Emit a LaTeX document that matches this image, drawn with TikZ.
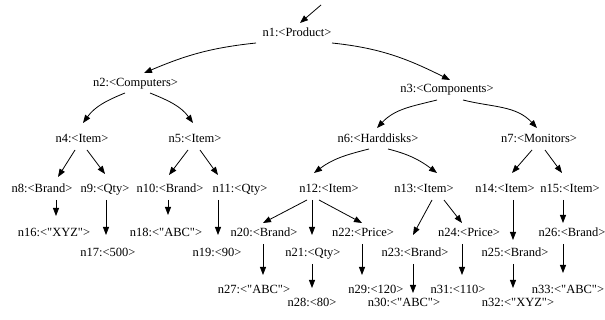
\documentclass[tikz,border=0pt]{standalone}
\usepackage{fontspec}
\setmainfont{Liberation Serif}[Ligatures=TeXOff]
\usetikzlibrary{arrows.meta,calc}
\begin{document}
\begin{tikzpicture}[x=1pt,y=1pt,
  lbl/.style={inner sep=0pt, text height=8pt, text depth=0pt, font=\fontsize{12.5}{14}\selectfont},
  e/.style={line width=0.8pt, -{Triangle[length=8pt,width=6pt]}}]
\useasboundingbox (0,0) rectangle (605,-320);
% nodes
\node[lbl] (n1)  at (297,-33)  {n1:<Product>};
\node[lbl] (n2)  at (135.5,-83) {n2:<Computers>};
\node[lbl] (n3)  at (447,-89)  {n3:<Components>};
\node[lbl] (n4)  at (82,-139)  {n4:<Item>};
\node[lbl] (n5)  at (195,-139) {n5:<Item>};
\node[lbl] (n6)  at (378,-139) {n6:<Harddisks>};
\node[lbl] (n7)  at (539,-139) {n7:<Monitors>};
\node[lbl] (n8)  at (42,-189)  {n8:<Brand>};
\node[lbl] (n9)  at (105,-189) {n9:<Qty>};
\node[lbl] (n10) at (170,-189) {n10:<Brand>};
\node[lbl] (n11) at (240,-189) {n11:<Qty>};
\node[lbl] (n12) at (329,-189) {n12:<Item>};
\node[lbl] (n13) at (424,-189) {n13:<Item>};
\node[lbl] (n14) at (505,-189) {n14:<Item>};
\node[lbl] (n15) at (570,-189) {n15:<Item>};
\node[lbl] (n16) at (54,-233)  {n16:<"XYZ">};
\node[lbl] (n18) at (166,-233) {n18:<"ABC">};
\node[lbl] (n20) at (264,-233) {n20:<Brand>};
\node[lbl] (n22) at (363,-233) {n22:<Price>};
\node[lbl] (n24) at (469,-233) {n24:<Price>};
\node[lbl] (n26) at (572,-233) {n26:<Brand>};
\node[lbl] (n17) at (108,-253) {n17:<500>};
\node[lbl] (n19) at (217,-253) {n19:<90>};
\node[lbl] (n21) at (313,-253) {n21:<Qty>};
\node[lbl] (n23) at (415,-253) {n23:<Brand>};
\node[lbl] (n25) at (515,-253) {n25:<Brand>};
\node[lbl] (n27) at (254,-290) {n27:<"ABC">};
\node[lbl] (n29) at (376,-290) {n29:<120>};
\node[lbl] (n31) at (458,-290) {n31:<110>};
\node[lbl] (n33) at (568,-290) {n33:<"ABC">};
\node[lbl] (n28) at (312,-303) {n28:<80>};
\node[lbl] (n30) at (404,-303) {n30:<"ABC">};
\node[lbl] (n32) at (518,-303) {n32:<"XYZ">};
\coordinate (root) at (321,-5);
% edges
\draw[e] (root) -- ($(n1)+(3,10)$);
\draw[e] ($(n1)+(-41,-10)$) to[out=186,in=23] ($(n2)+(8.5,10)$);
\draw[e] ($(n1)+(35,-10)$) to[out=354,in=153.5] ($(n3)+(3,9)$);
\draw[e] ($(n2)+(-10.5,-10)$) to[out=202,in=54] ($(n4)+(1,16)$);
\draw[e] ($(n2)+(14.5,-10)$) to[out=338,in=126] ($(n5)+(-2,16)$);
\draw[e] ($(n3)+(-10,-11)$) to[out=194,in=47] ($(n6)+(-1,11)$);
\draw[e] ($(n3)+(16,-11)$) to[out=346,in=133] ($(n7)+(-2,11)$);
\draw[e] ($(n4)+(-7,-11)$) -- ($(n8)+(16,12)$);
\draw[e] ($(n4)+(5,-11)$) -- ($(n9)+(0,15)$);
\draw[e] ($(n5)+(-7,-11)$) -- ($(n10)+(-1,14)$);
\draw[e] ($(n5)+(5,-11)$) -- ($(n11)+(-22,14)$);
\draw[e] ($(n6)+(-9,-10)$) to[out=194,in=37] ($(n12)+(-15,16)$);
\draw[e] ($(n6)+(10,-10)$) to[out=346,in=143] ($(n13)+(13,16)$);
\draw[e] ($(n7)+(-7,-11)$) -- ($(n14)+(7,16)$);
\draw[e] ($(n7)+(6,-11)$) -- ($(n15)+(-8,16)$);
\draw[e] ($(n8)+(14,-11)$) -- ($(n16)+(2,17)$);
\draw[e] ($(n9)+(1,-11)$) -- ($(n17)+(-2,18)$);
\draw[e] ($(n10)+(-2,-11)$) -- ($(n18)+(2,18)$);
\draw[e] ($(n11)+(-22,-11)$) -- ($(n19)+(1,18)$);
\draw[e] ($(n12)+(-22,-11)$) -- ($(n20)+(-1,10)$);
\draw[e] ($(n12)+(-17,-11)$) -- ($(n21)+(-1,18)$);
\draw[e] ($(n12)+(-10,-11)$) -- ($(n22)+(-1,10)$);
\draw[e] ($(n13)+(8,-11)$) -- ($(n23)+(-2,18)$);
\draw[e] ($(n13)+(20,-11)$) -- ($(n24)+(-7,10)$);
\draw[e] ($(n14)+(8,-11)$) -- ($(n25)+(-2,13)$);
\draw[e] ($(n15)+(-7,-11)$) -- ($(n26)+(-9,10)$);
\draw[e] ($(n20)+(-1,-11)$) -- ($(n27)+(9,15)$);
\draw[e] ($(n21)+(-1,-11)$) -- ($(n28)+(0,15)$);
\draw[e] ($(n22)+(-1,-11)$) -- ($(n29)+(-14,15)$);
\draw[e] ($(n23)+(-2,-11)$) -- ($(n30)+(9,10)$);
\draw[e] ($(n24)+(-7,-11)$) -- ($(n31)+(4,15)$);
\draw[e] ($(n25)+(-2,-11)$) -- ($(n32)+(-5,15)$);
\draw[e] ($(n26)+(-9,-11)$) -- ($(n33)+(-5,17)$);
\end{tikzpicture}
\end{document}
